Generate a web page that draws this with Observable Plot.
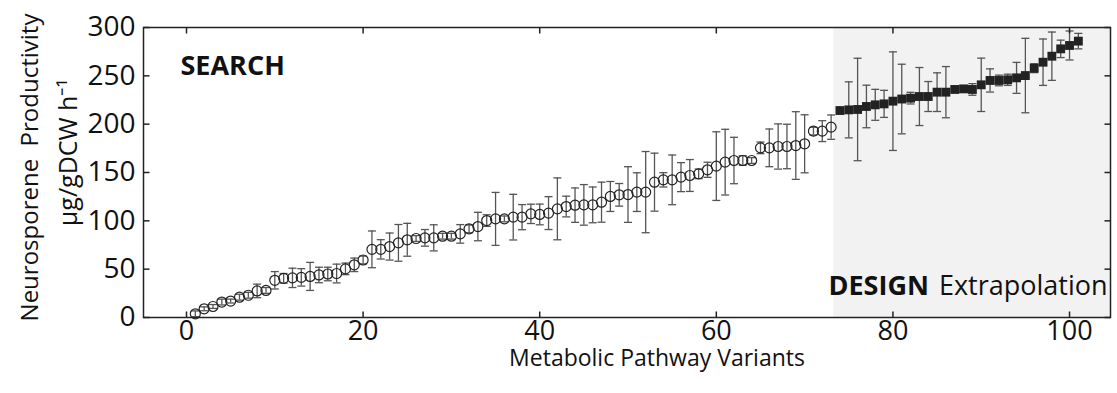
<!DOCTYPE html>
<html><head><meta charset="utf-8">
<script src="https://cdn.jsdelivr.net/npm/d3@7"></script>
<script src="https://cdn.jsdelivr.net/npm/@observablehq/plot@0.6"></script>
<style>body{margin:0;background:#fff}</style>
</head><body><div id="chart"></div>
<script>
// SEARCH phase: variants 1..73 (open circles)
const searchVariants = d3.range(1, 74);
const searchProductivity = [3.8, 9, 11.4, 16, 17, 21, 23, 27.5, 28, 38.5,
  40.5, 41, 41.5, 42.5, 44, 45, 45.5, 50.3, 54.5, 59.5,
  70.5, 70.5, 73.4, 77.2, 80.4, 81.7, 82.4, 82.4, 84.1, 84.1,
  86.5, 91.7, 94.1, 100.3, 102, 102, 103.8, 103.8, 107.2, 106.6,
  108, 112.4, 114.8, 116.2, 116.5, 116.5, 119.3, 125.2, 126.9, 127.2,
  129.7, 129.7, 140, 142.4, 142.4, 145.2, 146.9, 148.6, 152.8, 156.6,
  160.7, 162.4, 162.4, 162.4, 175.5, 175.5, 176.9, 176.9, 177.9, 179.7,
  192.8, 192.8, 196.9];
const searchError = [3, 2, 2, 3, 2, 3, 3, 7, 3, 9,
  5, 10, 9, 14.5, 8, 7, 9.7, 6, 7, 4,
  19, 10, 14, 19, 17, 3, 8.6, 13.5, 3, 3,
  9.6, 4, 14.7, 6, 27.4, 3, 23.6, 13, 10, 10.7,
  17, 32, 10.7, 17.8, 21, 18.5, 20.7, 15.5, 11.7, 28.8,
  20, 42, 30, 7.4, 25.7, 15, 16.5, 5, 7.8, 35.5,
  34, 24, 5, 3, 6, 19.5, 23.4, 23, 35, 30,
  4, 10.8, 12.6];
// DESIGN extrapolation: variants 74..101 (filled squares)
const designVariants = d3.range(74, 102);
const designProductivity = [214.1, 214.8, 215.2, 218.3, 220, 221, 223.8, 226, 226.9, 228.6,
  228.6, 233.1, 233.1, 235.9, 236.5, 235.9, 240.7, 245.2, 245.2, 245.9,
  247.9, 250.3, 257.9, 264.1, 270.3, 277.9, 281.4, 285.9];
const designError = [0, 29, 53, 22, 16, 14, 51, 36, 6, 30,
  15.5, 20, 26.5, 0, 0, 6, 27.6, 12, 5.5, 5.8,
  16, 38.5, 4.6, 24, 25, 9, 15, 8];
const xTicks = [0, 20, 40, 60, 80, 100];
const yTicks = [0, 50, 100, 150, 200, 250, 300];
const designStart = 73.3;
const xDomain = [-4.87, 104.64];

const search = searchVariants.map((x, i) => ({x, y: searchProductivity[i], e: searchError[i]}));
const design = designVariants.map((x, i) => ({x, y: designProductivity[i], e: designError[i]}));
const bars = search.concat(design).filter(d => d.e > 0);

const cap = {draw(c, s) { const r = Math.sqrt(s / Math.PI); c.moveTo(-r, 0); c.lineTo(r, 0); }};
const tickLeft = {draw(c) { c.moveTo(0, 0); c.lineTo(6, 0); }};
const tickRight = {draw(c) { c.moveTo(0, 0); c.lineTo(-6, 0); }};
const tickBottom = {draw(c) { c.moveTo(0, 0); c.lineTo(0, -6); }};
const tickTop = {draw(c) { c.moveTo(0, 0); c.lineTo(0, 6); }};
const font = "'Open Sans', sans-serif";

const chart = Plot.plot({
  width: 1117, height: 393,
  marginLeft: 143, marginRight: 7, marginTop: 27, marginBottom: 76,
  x: {domain: xDomain},
  y: {domain: [0, 300]},
  style: {fontFamily: font, background: "#fff", color: "#111"},
  marks: [
    Plot.rect([{x1: designStart, x2: xDomain[1]}], {x1: "x1", x2: "x2", y1: 0, y2: 300, fill: "#f2f2f2"}),
    Plot.ruleX(bars, {x: "x", y1: d => d.y - d.e, y2: d => d.y + d.e, stroke: "#555", strokeWidth: 1.3}),
    Plot.dot(bars, {x: "x", y: d => d.y + d.e, symbol: cap, r: 4, fill: "none", stroke: "#555", strokeWidth: 1.3}),
    Plot.dot(bars, {x: "x", y: d => d.y - d.e, symbol: cap, r: 4, fill: "none", stroke: "#555", strokeWidth: 1.3}),
    Plot.dot(search, {x: "x", y: "y", r: 5, fill: "none", stroke: "#222", strokeWidth: 1.2}),
    Plot.dot(design, {x: "x", y: "y", symbol: "square", r: 5, fill: "#222", stroke: "none"}),
    Plot.frame({stroke: "#222", strokeWidth: 1.5}),
    Plot.dot(yTicks, {y: d => d, frameAnchor: "left", symbol: tickLeft, fill: "none", stroke: "#222"}),
    Plot.dot(yTicks, {y: d => d, frameAnchor: "right", symbol: tickRight, fill: "none", stroke: "#222"}),
    Plot.dot(xTicks, {x: d => d, frameAnchor: "bottom", symbol: tickBottom, fill: "none", stroke: "#222"}),
    Plot.dot(xTicks, {x: d => d, frameAnchor: "top", symbol: tickTop, fill: "none", stroke: "#222"}),
    Plot.axisY({ticks: yTicks, tickSize: 0, tickPadding: 8, fontSize: 28, label: null}),
    Plot.axisX({ticks: xTicks, tickSize: 0, tickPadding: 3, fontSize: 27, label: null}),
    Plot.text(["Metabolic Pathway Variants"], {frameAnchor: "bottom", text: d => d, textAnchor: "middle", lineAnchor: "middle", dx: 30, dy: 41, fontSize: 23}),
    Plot.text(["Neurosporene\u00a0 Productivity"], {frameAnchor: "left", text: d => d, textAnchor: "middle", lineAnchor: "middle", rotate: -90, dx: -113, dy: -5, fontSize: 24}),
    Plot.text(["µg/gDCW h⁻¹"], {frameAnchor: "left", text: d => d, textAnchor: "middle", lineAnchor: "middle", rotate: -90, dx: -75, dy: -20, fontSize: 25}),
    Plot.text(["SEARCH"], {frameAnchor: "top-left", text: d => d, textAnchor: "start", lineAnchor: "middle", dx: 37, dy: 39, fontSize: 27, fontWeight: "bold"}),
    Plot.text(["DESIGN"], {frameAnchor: "bottom-left", text: d => d, textAnchor: "start", lineAnchor: "middle", dx: 685, dy: -31, fontSize: 27, fontWeight: "bold"}),
    Plot.text(["Extrapolation"], {frameAnchor: "bottom-right", text: d => d, textAnchor: "end", lineAnchor: "middle", dx: -3, dy: -31, fontSize: 27})
  ]
});
document.getElementById("chart").appendChild(chart);
</script>
</body></html>
